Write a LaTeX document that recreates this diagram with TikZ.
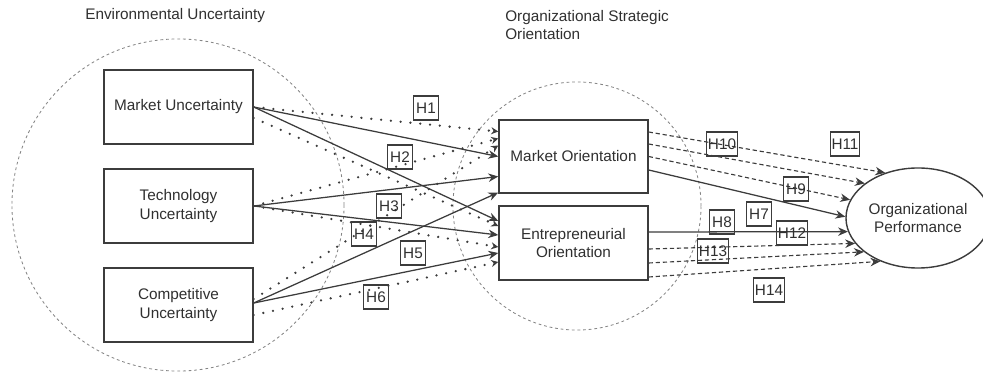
\documentclass[tikz,border=0pt]{standalone}
\usepackage{fontspec}
\setmainfont{Liberation Sans}
\usetikzlibrary{arrows.meta,calc,shapes.geometric}

\definecolor{linegray}{HTML}{3c3c3c}
\definecolor{ringgray}{HTML}{858585}
\definecolor{textgray}{HTML}{303030}

\tikzset{
  construct/.style={draw=linegray, line width=1pt, fill=white, minimum width=3.725cm, minimum height=1.85cm, align=center},
  group/.style={circle, draw=ringgray, line width=0.6pt, dash pattern=on 2pt off 2pt},
  hyp/.style={draw=linegray, line width=0.8pt, minimum width=0.625cm, minimum height=0.6cm, inner sep=1pt},
  direct/.style={draw=linegray, line width=0.9pt, -{Stealth[length=7pt,width=6pt]}},
  viaorient/.style={draw=linegray, line width=1.8pt, line cap=round, dash pattern=on 0pt off 7pt, -{Stealth[length=5pt,width=5pt]}},
  viaperf/.style={draw=linegray, line width=0.8pt, dash pattern=on 3pt off 2pt, -{Stealth[length=7pt,width=6pt]}}
}

\begin{document}
\begin{tikzpicture}[x=0.025cm, y=-0.025cm, font=\fontsize{10.9}{13.2}\selectfont, text=textgray]
    \useasboundingbox (0,0) rectangle (983,372);

    % the two groups
    \node[group, minimum size=8.3cm] (env) at (178,205) {};
    \node[group, minimum size=6.2cm] (oso) at (577,206) {};
    \node[anchor=west, inner sep=0pt] (envtitle) at (85,16) {Environmental Uncertainty};
    \node[anchor=north west, align=left, inner sep=0pt] (osotitle) at (505,10) {Organizational Strategic\\Orientation};

    % constructs
    \node[construct] (mu) at (178.5,107) {Market Uncertainty};
    \node[construct] (tu) at (178.5,206) {Technology\\Uncertainty};
    \node[construct] (cu) at (178.5,305) {Competitive\\Uncertainty};
    \node[construct, minimum height=1.825cm] (mo) at (573.5,156.5) {Market Orientation};
    \node[construct] (eo) at (573.5,243) {Entrepreneurial\\Orientation};
    \node[ellipse, draw=linegray, line width=1pt, minimum width=3.6cm, minimum height=2.5cm, align=center, inner sep=0pt] (op) at (918,218) {Organizational\\Performance};

    % uncertainty -> orientation
    \draw[direct] (mu.east) -- (mo.west);
    \draw[direct] (mu.east) -- ($(eo.west)+(0,-22)$);
    \draw[direct] (tu.east) -- ($(mo.west)+(0,20)$);
    \draw[direct] (tu.east) -- ($(eo.west)+(0,-8)$);
    \draw[direct] ($(cu.east)+(0,-2)$) -- ($(mo.west)+(0,36)$);
    \draw[direct] ($(cu.east)+(0,-2)$) -- ($(eo.west)+(0,10)$);

    \draw[viaorient] (mu.east) -- ($(mo.west)+(0,-25)$);
    \draw[viaorient] ($(mu.east)+(0,11)$) -- ($(eo.west)+(0,-17)$);
    \draw[viaorient] (tu.east) -- ($(mo.west)+(0,-18)$);
    \draw[viaorient] (tu.east) -- ($(eo.west)+(0,4)$);
    \draw[viaorient] ($(cu.east)+(0,-6)$) -- ($(mo.west)+(0,-11)$);
    \draw[viaorient] ($(cu.east)+(0,10)$) -- ($(eo.west)+(0,19)$);

    % orientation -> performance
    \draw[viaperf] ($(mo.east)+(0,-24.5)$) -- (op.126);
    \draw[viaperf] ($(mo.east)+(0,-12.5)$) -- (op.147);
    \draw[viaperf] (mo.east) -- (op.165);
    \draw[direct] ($(mo.east)+(0,13.5)$) -- (op.179);
    \draw[direct] ($(eo.east)+(0,-11)$) -- (op.191);
    \draw[viaperf] ($(eo.east)+(0,6)$) -- (op.202);
    \draw[viaperf] ($(eo.east)+(0,20)$) -- (op.212);
    \draw[viaperf] ($(eo.east)+(0,34)$) -- (op.229);

    % hypothesis labels
    \foreach \hname/\hx/\hy in {H1/426/108, H2/400/157, H3/389/206, H4/364/234, H5/413/253, H6/376/297,
            H7/759/214, H8/722/222, H9/796/189, H10/722/144, H11/845/144, H12/792/233, H13/713/251, H14/769/290}{
        \node[hyp] (\hname) at (\hx,\hy) {\hname};
    }
\end{tikzpicture}
\end{document}
